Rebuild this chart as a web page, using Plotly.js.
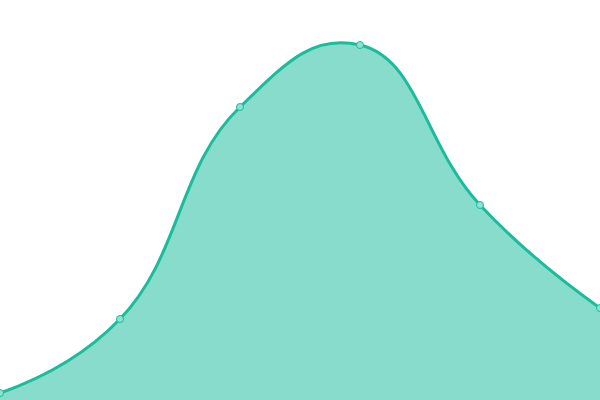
<!DOCTYPE html>
<html><head><meta charset="utf-8">
<script src="https://cdn.plot.ly/plotly-3.0.1.min.js"></script>
<style>html,body{margin:0;padding:0;background:#fff}#chart{width:600px;height:400px}</style>
</head><body><div id="chart"></div>
<script>
const xValues = [0, 1, 2, 3, 4, 5];
const yValues = [7, 81, 293, 355, 195, 92];

Plotly.newPlot('chart', [{
  x: xValues, y: yValues, type: 'scatter', mode: 'lines+markers',
  line: {shape: 'spline', smoothing: 1.3, color: '#1abc9c', width: 3},
  marker: {size: 7, color: '#8de3d2', line: {color: '#1abc9c', width: 1}},
  fill: 'tozeroy', fillcolor: 'rgba(26,188,156,0.52)', cliponaxis: false
}], {
  width: 600, height: 400, margin: {l: 0, r: 0, t: 0, b: 0},
  paper_bgcolor: '#fff', plot_bgcolor: '#fff', showlegend: false,
  xaxis: {range: [0, 5], visible: false, fixedrange: true},
  yaxis: {range: [0, 400], visible: false, fixedrange: true}
}, {displayModeBar: false, staticPlot: true});
</script></body></html>
